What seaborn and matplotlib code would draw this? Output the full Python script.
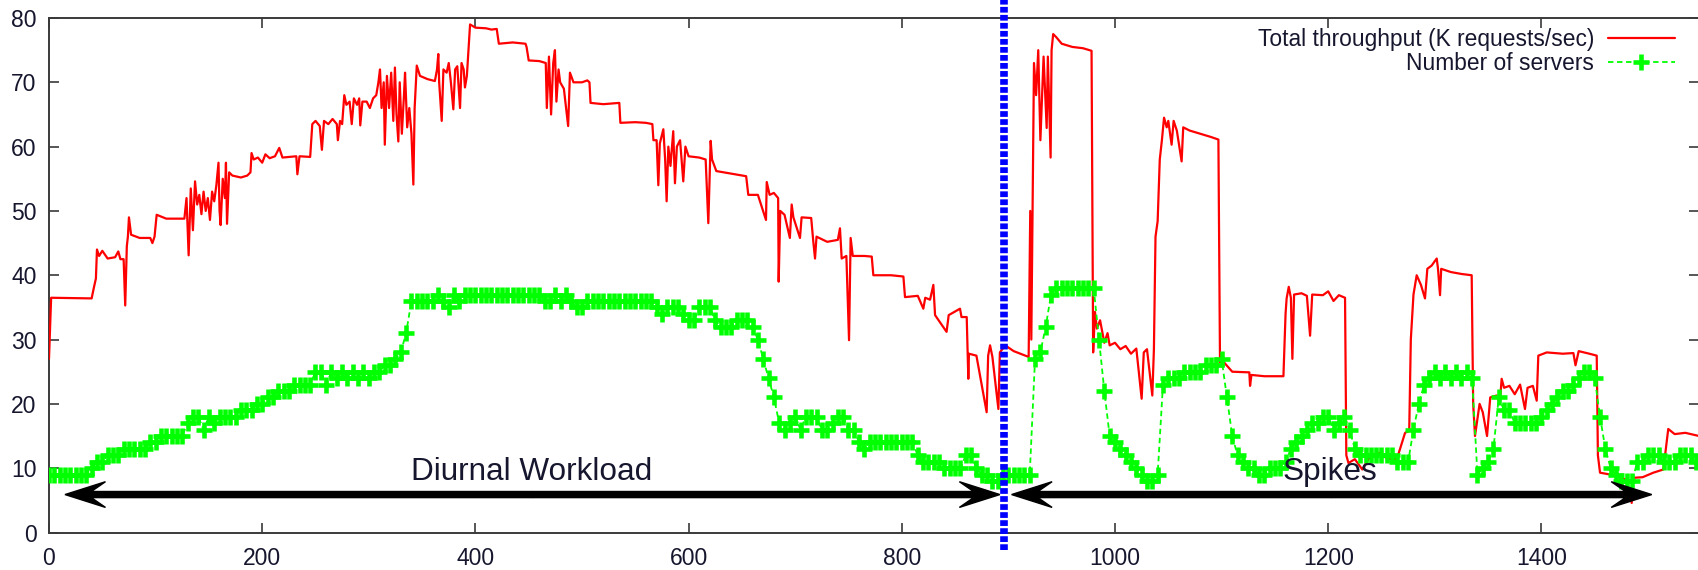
import numpy as np
import pandas as pd
import matplotlib
matplotlib.use("Agg")
import matplotlib.pyplot as plt
from matplotlib.lines import Line2D
import seaborn as sns

# ---------------- data ----------------
thr_x = [0, 2, 40, 42, 44, 45, 47, 50, 55, 62, 65, 67, 70, 71.5, 73, 74, 75, 77, 85, 95, 97, 99, 101, 110, 127,
         129, 131, 133, 135, 137, 139, 141, 143, 145, 147, 149, 151, 153, 155, 157, 159, 160, 161, 163, 165, 166,
         167, 169, 172, 180, 186, 189, 190, 192, 196, 200, 203, 207, 212, 216, 219, 226,
         232, 233, 235, 245, 247, 250, 254, 256, 258, 262, 266, 270, 271, 273, 275, 277, 279, 282, 284, 286, 289,
         291, 292, 294, 298, 301, 304, 307, 309, 310.5, 312, 314, 315, 317, 319, 321, 323, 324.5, 326, 327.7, 329,
         331, 333, 334, 336, 338, 340, 341.8, 343, 345, 348, 355, 362, 364, 365.2, 366, 368.4, 370, 373, 375, 377,
         379.3, 381, 383, 385.6, 387, 389, 390.2, 392, 395, 400, 410, 415, 420, 422, 435, 447,
         448, 450, 460, 466, 467, 469, 471, 473, 474.6, 476, 478, 479.5, 483, 487, 488.7, 492, 500, 505, 507, 508,
         520, 535, 536, 550, 560, 566, 567, 570, 571.6, 573, 576.3, 578, 579.4, 581, 583, 585.6, 587.2, 589, 592,
         595, 597, 600, 610, 616, 618.5, 620.7, 622, 626, 640, 654, 656, 665, 672.6, 673.3, 676,
         680, 684, 684.5, 686, 690, 695, 696.7, 698.3, 704.5, 706, 715, 717, 718.6, 720, 730, 740, 742, 743.6, 748,
         750.5, 752, 754, 765, 771.8, 773.3, 790, 801.5, 803, 815, 820.2, 822, 826.5, 829.6, 831.2, 842, 844, 854.6,
         856, 860.9, 862.4, 863, 870, 879.6, 881, 882.8, 885, 890.6, 892,
         897, 905, 919, 920.5, 921.5, 923, 924, 926, 928, 930, 933, 935.9, 937, 939.6, 940.5, 942, 945, 950, 960,
         970, 978, 979.5, 981.2, 983, 986, 990, 993, 995, 1000, 1005, 1010, 1015, 1020, 1025, 1027, 1030, 1035,
         1036.5, 1038, 1040, 1042, 1044, 1046, 1048.5, 1050, 1053.1, 1055, 1058, 1062.5, 1064, 1070, 1080, 1090,
         1097, 1098.5, 1102, 1110, 1126,
         1126.7, 1128, 1140, 1158, 1160, 1161, 1163, 1165, 1166.4, 1168, 1175, 1180, 1183, 1185, 1195, 1200, 1205,
         1210, 1215.8, 1217, 1219, 1225, 1232, 1238, 1248.6, 1255, 1264.3, 1267.4, 1272.1, 1276, 1277.5, 1280,
         1283, 1287, 1290.8, 1293, 1297, 1301.8, 1303, 1304.9, 1306, 1315, 1325, 1334.6, 1336, 1337.7, 1342, 1345,
         1349, 1352, 1358, 1361, 1362.7, 1365, 1370, 1375, 1380, 1384.6, 1387, 1392, 1395.6, 1397.1, 1405, 1420,
         1430, 1432, 1435, 1445, 1451.9, 1453, 1455, 1465, 1473.7, 1480, 1484.7, 1486, 1495, 1505, 1514.4, 1519,
         1525, 1535, 1548]
thr_y = [27, 36.5, 36.4, 38, 39.5, 44, 43, 43.8, 42.6, 42.8, 43.7, 42.5, 42.5, 35.3, 44.5, 46, 49, 46.3, 45.8, 45.8,
         45, 46, 49.4, 48.8, 48.8,
         52, 43.1, 53.5, 47, 54.6, 51, 52.5, 49.5, 53, 50, 52, 48.6, 53, 51.5, 54, 57.5, 50, 47.8, 55, 52, 57.5,
         48, 56, 55.5, 55.2, 55.5, 56, 59, 58, 58.3, 57.5, 58.8, 58.2, 58.5, 59.8, 58.3, 58.4,
         58.5, 55.7, 58.5, 58.4, 63.5, 64, 63.2, 59.5, 64, 63.5, 64.3, 63.5, 61, 64, 63.5, 68, 66.5, 67, 63.5, 67.5,
         66.5, 67.5, 63.3, 67, 67, 66, 67.5, 68, 70, 72, 66, 70, 60.3, 71, 66, 71.5, 64, 72.3, 65, 60.8, 70,
         62, 68, 71.5, 63, 66, 62, 54.1, 66, 72.6, 71, 70.5, 70.2, 72, 74.4, 70, 64, 72, 71.5, 73, 70,
         65.8, 72, 72.5, 66, 73, 72, 69.2, 71, 79, 78.5, 78.4, 78.2, 78.3, 76, 76.2, 76,
         75.5, 73.4, 73.3, 73, 66, 74, 65, 73, 75, 67, 72, 70, 69, 63.2, 71.5, 70, 70, 70.3, 70, 66.8,
         66.6, 66.8, 63.7, 63.8, 63.7, 63.5, 61, 61, 54, 60.5, 62.7, 58, 51.5, 60, 57, 62.4, 54.3, 60, 61,
         54.6, 60, 58.5, 58.3, 58, 48.1, 60.9, 58, 56.2, 55.8, 55.4, 52.5, 52.5, 48.6, 54.5, 52.5,
         52.8, 52, 39, 50, 49.4, 45.8, 51, 49, 45.8, 49, 48.9, 45.2, 42.6, 46, 45.2, 45.5, 47.3, 42.6, 43,
         29.9, 45.8, 43, 43, 42.9, 40, 40, 39.8, 36.6, 36.8, 34.8, 36.5, 36.2, 38.5, 33.8, 31.2, 33.8, 34.8,
         33.5, 33.5, 23.9, 27.8, 27.5, 18.7, 27.5, 29.1, 27.3, 19.2, 28,
         29.1, 28.2, 27.3, 50, 30, 55, 73, 68, 75, 61, 74, 62.9, 74, 58.3, 75, 77.5, 77, 76, 75.5,
         75.3, 74.9, 28, 34.3, 31.7, 33, 29.5, 31, 29.1, 29.5, 28.5, 29, 27.8, 28.6, 20.8, 28, 28.5, 21.3,
         28.5, 46, 48.4, 58, 61, 64.5, 63, 64, 60.3, 64, 62.5, 57.7, 63, 62.5, 62, 61.5,
         61.1, 26.5, 26.5, 25, 24.9,
         22.8, 24.5, 24.3, 24.3, 34, 36.4, 38.2, 36.5, 27, 37, 37.2, 36.8, 30.6, 37, 36.9, 37.5, 36,
         36.9, 36.5, 12, 10.8, 11.4, 9.8, 11.5, 12.4, 11.5, 11.4, 13, 15.5, 15.8, 30, 37,
         40, 38.5, 36.4, 41, 41.5, 42.6, 41, 36.9, 41, 40.5, 40.2, 40, 20, 15, 20, 18.7,
         15, 21, 21.3, 20, 23.9, 22.5, 22.8, 21.5, 23, 19.2, 22.5, 22.8, 20.5, 27.5, 28, 27.8,
         27.9, 26, 28.2, 27.8, 27.5, 12, 9.3, 9, 8.8, 8, 4.6, 8.5, 8.6, 9.3, 9.8, 16.1,
         15.3, 15.5, 15]

srv_x = np.arange(0, 1550, 5)
srv_y = [9, 9, 9, 9, 9, 9, 9, 9, 10, 11, 11, 12, 12, 12, 13, 13, 13, 13, 13, 14,
         14, 15, 15, 15, 15, 15, 17, 18, 18, 16, 18, 17, 18, 18, 18, 18, 19, 19, 19, 20,
         20, 21, 21, 22, 22, 22, 23, 23, 23, 23, 25, 25, 23, 25, 24, 25, 24, 25, 24, 25,
         24, 25, 25, 26, 26, 27, 28, 31, 36, 36, 36, 36, 36, 37, 36, 35, 37, 36, 37, 37,
         37, 37, 37, 37, 37, 37, 37, 37, 37, 37, 37, 37, 37, 36, 36, 37, 36, 37, 36, 35,
         35, 36, 36, 36, 36, 36, 36, 36, 36, 36, 36, 36, 36, 36, 35, 34, 35, 35, 35, 34,
         33, 33, 35, 35, 35, 33, 32, 32, 32, 33, 33, 33, 32, 30, 27, 24, 21, 17, 16, 17,
         18, 16, 18, 18, 18, 16, 16, 17, 18, 18, 16, 16, 14, 13, 14, 14, 14, 14, 14, 14,
         14, 14, 14, 12, 11, 11, 11, 11, 10, 10, 10, 10, 12, 12, 10, 9, 9, 8, 8, 9,
         9, 9, 9, 9, 9, 27, 28, 32, 37, 38, 38, 38, 38, 38, 38, 38, 38, 30, 22, 15,
         14, 13, 12, 11, 10, 9, 8, 8, 9, 23, 24, 24, 24, 25, 25, 25, 25, 26, 26, 26,
         27, 21, 15, 12, 11, 10, 10, 9, 9, 10, 10, 10, 11, 13, 14, 15, 16, 17, 17, 18,
         18, 16, 17, 18, 16, 13, 12, 12, 12, 12, 12, 12, 12, 11, 11, 11, 16, 20, 23, 24,
         25, 24, 25, 24, 25, 24, 25, 24, 9, 10, 11, 13, 21, 19, 19, 17, 17, 17, 17, 17,
         18, 19, 20, 21, 22, 22, 23, 24, 25, 25, 24, 18, 13, 10, 9, 8, 8, 8, 11, 11,
         12, 12, 12, 11, 11, 11, 12, 12, 12, 11]

x_ticks = [0, 200, 400, 600, 800, 1000, 1200, 1400]
y_ticks = [0, 10, 20, 30, 40, 50, 60, 70, 80]
series_labels = ["Total throughput (K requests/sec)", "Number of servers"]
phase_labels = ["Diurnal Workload", "Spikes"]
phase_label_x = [453, 1202]
phase_label_y = 8.2
diurnal_span = (15, 892)
spikes_span = (903, 1503.5)
arrow_y = 5.9
boundary_x = 896

# ---------------- style ----------------
sns.set_theme(style="ticks")
plt.rcParams["font.family"] = ["Liberation Sans", "DejaVu Sans"]
TXT = "#16162e"
RED = "#ff0000"
GREEN = "#00ff00"

W, H = 1699, 570
fig = plt.figure(figsize=(W / 100, H / 100), dpi=100)
ax_left, ax_bot, ax_top = 49, 532.5, 18
ax = fig.add_axes([ax_left / W, 1 - ax_bot / H, (W - ax_left) / W, (ax_bot - ax_top) / H])

df_thr = pd.DataFrame({"x": thr_x, "y": thr_y})
df_srv = pd.DataFrame({"x": srv_x, "y": srv_y})

sns.lineplot(data=df_thr, x="x", y="y", ax=ax, estimator=None, sort=False,
             color=RED, linewidth=1.6, zorder=3)
sns.lineplot(data=df_srv, x="x", y="y", ax=ax, estimator=None, sort=False,
             color=GREEN, linewidth=1.3, linestyle=(0, (3, 2)), marker="+",
             markersize=12, markeredgewidth=3.3, markeredgecolor=GREEN, zorder=4)

ax.set_xlim(0, (W - ax_left) / 1.066)
ax.set_ylim(0, 80)
ax.set_xticks(x_ticks)
ax.set_yticks(y_ticks)
ax.set_xlabel("")
ax.set_ylabel("")
for s in ["left", "bottom", "top"]:
    ax.spines[s].set_visible(True)
    ax.spines[s].set_color("#3a3a3a")
    ax.spines[s].set_linewidth(1.4)
ax.spines["right"].set_visible(False)
ax.tick_params(axis="both", direction="in", length=7.5, width=1.2, color="#3a3a3a",
               labelsize=16.5, labelcolor=TXT, top=True, right=True)
ax.tick_params(axis="y", pad=9)
ax.tick_params(axis="x", pad=10.5)

# phase arrows (double headed, barbed heads)
for (a, b) in [diurnal_span, spikes_span]:
    mid = (a + b) / 2
    for tip in (a, b):
        ax.arrow(mid, arrow_y, tip - mid, 0, width=0.95, head_width=4.0, head_length=38,
                 overhang=0.35, length_includes_head=True, color="black", zorder=6)

for lab, lx in zip(phase_labels, phase_label_x):
    ax.text(lx, phase_label_y, lab, ha="center", va="baseline", fontsize=22.7, color=TXT, zorder=7)

# boundary marker
ax.plot([boundary_x, boundary_x], [-0.034, 1.035], transform=ax.get_xaxis_transform(),
        color="#0000ff", linewidth=5.5, linestyle=(0, (0.75, 0.3)), solid_capstyle="butt",
        dash_capstyle="butt", clip_on=False, zorder=8)

# legend
handles = [Line2D([], [], color=RED, linewidth=1.6),
           Line2D([], [], color=GREEN, linewidth=1.3, linestyle=(0, (3, 2)), marker="+",
                  markersize=12, markeredgewidth=3.3)]
leg = ax.legend(handles, series_labels, loc="upper right", bbox_to_anchor=(1675 / W, 1 - 28 / H),
                bbox_transform=fig.transFigure, frameon=False, markerfirst=False, fontsize=16.4,
                handlelength=2.95, handletextpad=0.6, labelspacing=0.05, borderpad=0, borderaxespad=0,
                numpoints=1)
for t in leg.get_texts():
    t.set_color(TXT)

fig.savefig("out.png", dpi=100)
